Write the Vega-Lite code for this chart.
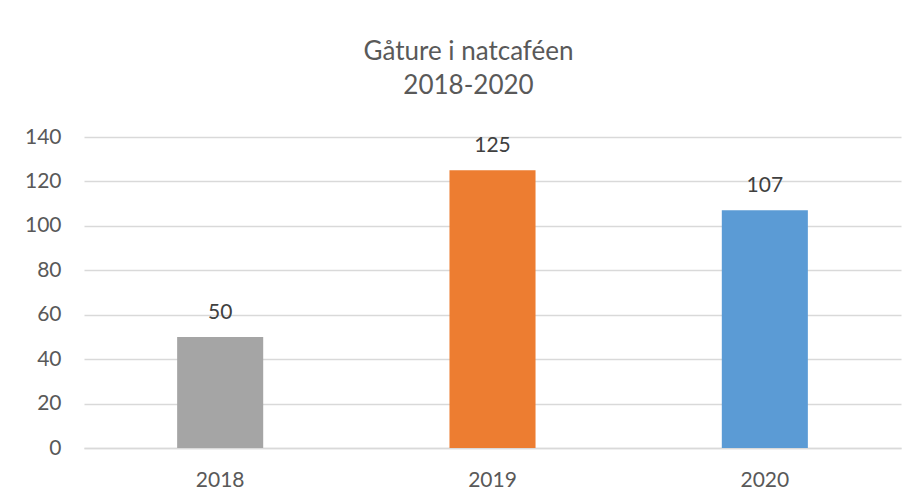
{
  "$schema": "https://vega.github.io/schema/vega-lite/v6.json",
  "width": 817,
  "height": 311,
  "autosize": {"type": "none"},
  "padding": {"left": 84, "top": 137, "right": 16, "bottom": 54},
  "background": "white",
  "title": {
    "text": ["Gåture i natcaféen", "2018-2020"],
    "font": "Lato",
    "fontSize": 26,
    "fontWeight": "normal",
    "color": "#595959",
    "lineHeight": 34,
    "anchor": "middle",
    "frame": "group",
    "dx": -24,
    "offset": 27
  },
  "data": {
    "values": [
      {"year": "2018", "value": 50, "color": "#A5A5A5"},
      {"year": "2019", "value": 125, "color": "#ED7D31"},
      {"year": "2020", "value": 107, "color": "#5B9BD5"}
    ]
  },
  "encoding": {
    "x": {
      "field": "year",
      "type": "nominal",
      "scale": {"paddingInner": 0.684, "paddingOuter": 0.342},
      "axis": {
        "title": null,
        "labelAngle": 0,
        "ticks": false,
        "labelPadding": 21,
        "labelFont": "Lato",
        "labelFontSize": 21,
        "labelColor": "#595959",
        "domainColor": "#D9D9D9",
        "domainWidth": 1.5,
        "grid": false
      }
    },
    "y": {
      "field": "value",
      "type": "quantitative",
      "scale": {"domain": [0, 140], "nice": false},
      "axis": {
        "title": null,
        "values": [0, 20, 40, 60, 80, 100, 120, 140],
        "domain": false,
        "ticks": false,
        "labelPadding": 23,
        "labelFont": "Lato",
        "labelFontSize": 21,
        "labelColor": "#595959",
        "gridColor": "#D9D9D9",
        "gridWidth": 1.5
      }
    }
  },
  "layer": [
    {
      "mark": {"type": "bar"},
      "encoding": {
        "color": {"field": "color", "type": "nominal", "scale": null}
      }
    },
    {
      "mark": {
        "type": "text",
        "baseline": "alphabetic",
        "dy": -18,
        "font": "Lato",
        "fontSize": 21,
        "color": "#404040"
      },
      "encoding": {
        "text": {"field": "value", "type": "quantitative"}
      }
    }
  ],
  "config": {"view": {"stroke": null}}
}
